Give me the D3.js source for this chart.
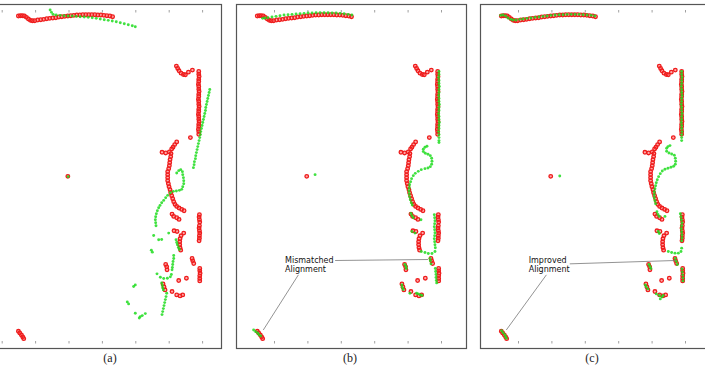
<!DOCTYPE html>
<html><head><meta charset="utf-8">
<script src="https://cdn.jsdelivr.net/npm/d3@7"></script>
<style>html,body{margin:0;padding:0;background:#fff;} svg{display:block;}</style>
</head><body>
<svg id="chart" width="705" height="368"></svg>
<script>
// ---- data (units: cm; one tick = 100 cm) ----
const panelLabels = ["(a)", "(b)", "(c)"];
const ticksA = [0, 100, 200, 300, 400, 500, 600];
const ticksBC = [100, 200, 300, 400, 500, 600];

// reference scan (red hollow circles), identical in all three panels
const referenceScan = [
 [50,976],[56,977],[62,977],[68,976],[74,972],[80,967],[86,963],[92,962],[99,962],[108,964],[117,965],[126,966],[135,968],[144,969],[153,970],[162,971],[171,973],[180,974],[189,975],[198,976],[207,977],[216,978],[225,979],[234,979],[243,980],[252,980],[261,980],[270,980],[279,980],[288,979],[297,979],[306,978],[315,977],[324,976],[332,974],
 [523,826],[527,819],[531,812],[537,805],[544,801],[550,800],[559,808],[571,814],
 [590,810],[590,802],[591,795],[590,787],[590,780],[589,772],[590,765],[590,757],[591,750],[590,742],[590,735],[589,727],[590,720],[590,712],[591,705],[590,697],[590,690],[589,682],[590,675],[590,667],[591,660],[590,652],[590,645],[589,637],[590,630],[590,622],
 [565,612],
 [524,599],[518,591],[513,583],[509,578],[502,569],[491,566],[480,568],
 [507,564],[506,555],[504,546],[503,537],[502,528],[500,519],[497,510],[497,501],[497,492],[497,483],[499,474],[501,465],[504,456],[506,447],[509,438],[512,429],[515,420],[519,412],[524,406],[531,401],[539,397],[546,393],
 [510,383],[515,376],[524,372],[531,367],
 [592,381],[591,374],[592,366],[593,359],[592,348],[591,341],[592,333],[593,326],[592,318],[592,311],[591,303],
 [516,333],[525,331],[545,326],[537,318],[534,309],[533,300],[533,291],[534,282],[536,275],
 [491,232],[494,225],[495,216],
 [570,250],[572,243],[575,235],
 [593,220],[593,213],[594,206],[593,198],[593,190],[593,183],
 [530,184],[553,191],
 [483,174],[486,165],[489,156],
 [510,151],[524,141],[534,138],[542,141],
 [50,32],[54,27],[59,21],[63,15],[66,10],
 [198,496]
];

// current scan (green dots), panel (a): initial guess
const scanA = [
 [145,994],[149,987],[154,981],[163,979],[175,978],[187,977],[199,976],[211,976],[223,975],[235,974],[247,973],[259,972],[271,971],[283,969],[295,967],[307,965],[319,963],[331,961],[343,959],[355,956],[367,953],[379,950],[391,947],[400,944],
 [623,756],[621,747],[619,738],[617,729],[615,720],[613,711],[611,702],[610,693],[608,684],[606,675],[604,666],[602,657],[600,648],[598,639],[596,630],[595,621],[593,612],[591,603],[589,594],[587,585],[585,576],[583,567],[581,558],[580,549],[577,540],[576,531],[574,522],
 [524,506],[530,513],[536,516],[541,510],[542,501],[544,492],[545,483],[545,474],[542,465],[539,457],[532,454],[523,452],[514,451],[505,447],[497,439],[491,432],[485,424],[479,417],[474,409],[470,402],[466,393],[463,384],[461,375],[460,366],[461,357],[462,348],
 [455,319],[470,306],[479,307],[500,326],[448,275],[451,269],
 [522,306],[524,298],[526,291],[529,283],[532,277],
 [515,259],[515,250],[513,241],[512,232],[511,223],[510,216],
 [465,204],[475,194],[485,190],[496,191],[505,195],[508,202],
 [400,171],[395,166],
 [479,177],[481,169],[482,162],[484,156],
 [494,146],[492,136],[490,127],[488,118],[486,109],[484,100],[482,91],[480,82],
 [376,120],[380,114],[400,86],[412,72],[415,76],[421,79],[430,85],
 [199,495]
];

// panel (b): after standard alignment
const scanB = [
 [66,969],[73,970],[82,971],[94,973],[106,975],[118,977],[130,979],[142,980],[154,981],[166,982],[178,983],[190,984],[202,985],[214,985],[226,986],[238,986],[250,986],[262,986],[274,985],[286,985],[298,984],[310,983],[322,981],[333,979],
 [594,810],[594,801],[593,792],[594,783],[594,774],[595,765],[594,756],[594,747],[593,738],[594,729],[594,720],[595,711],[594,702],[594,693],[593,684],[594,675],[594,666],[595,657],[594,648],[594,639],[593,630],[594,621],[594,612],[594,603],[594,597],
 [558,586],[552,583],[547,577],[547,570],[553,565],[561,562],[568,558],[572,550],[573,541],[572,532],[568,525],[561,521],[552,519],[541,516],[532,511],[523,505],[517,498],[512,489],[509,480],[506,471],[505,462],[504,453],[505,444],[506,435],[508,426],[511,417],[514,410],
 [510,385],[513,378],[517,372],[540,366],
 [580,381],[581,372],[582,363],[581,354],[580,345],[581,336],[582,327],[581,318],[580,309],[581,300],[582,291],
 [513,331],[522,326],
 [541,271],[552,268],[562,265],[573,265],[582,271],[583,282],
 [567,250],[568,243],[570,234],
 [583,220],[584,211],[585,202],[585,193],[586,184],[587,177],
 [492,232],[495,226],[496,220],
 [483,171],[484,163],[487,157],
 [507,146],[527,146],[532,144],[538,141],[543,139],
 [39,36],[45,31],[51,27],[55,22],[60,18],
 [223,501]
];

// panel (c): after improved alignment
const scanC = [
 [48,978],[55,979],[63,976],[70,970],[78,966],[85,964],[94,964],[105,966],[115,967],[127,969],[139,970],[151,972],[163,973],[175,975],[187,976],[199,978],[211,979],[223,980],[235,980],[247,981],[259,981],[271,981],[283,981],[295,980],[307,979],[319,978],[330,976],
 [590,810],[590,801],[591,792],[590,783],[590,774],[589,765],[590,756],[590,747],[591,738],[590,729],[590,720],[589,711],[590,702],[590,693],[591,684],[590,675],[590,666],[589,657],[590,648],[590,639],[591,630],[590,621],[590,612],[590,603],
 [555,588],[549,585],[545,580],[545,571],[552,566],[560,563],[568,559],[571,550],[572,541],[571,532],[566,526],[558,523],[549,520],[540,517],[532,512],[526,504],[521,495],[517,486],[514,477],[512,468],[510,459],[508,450],[508,441],[508,432],[510,423],[512,414],
 [516,390],[519,382],[523,376],[540,376],
 [586,384],[588,375],[589,366],[591,357],[590,348],[589,339],[590,330],[591,321],[591,312],[590,303],
 [520,331],[523,325],
 [550,271],[560,268],[570,266],[580,266],[588,271],[590,281],
 [571,250],[574,241],[577,232],
 [591,219],[592,210],[593,201],[594,192],[594,183],
 [492,232],[495,226],[498,220],
 [481,171],[484,165],[489,159],
 [514,144],[523,139],[531,135],[535,139],[526,129],
 [51,34],[55,28],[60,22],[63,16],[65,11],
 [225,497]
];

const noteB = ["Mismatched", "Alignment"];
const noteC = ["Improved", "Alignment"];

// ---- layout ----
const svg = d3.select("#chart");
const pxPerCm = 33.4 / 100;
const y = d3.scaleLinear().domain([0, 1000]).range([342, 342 - 1000 * pxPerCm]);

const panels = [
  {label: panelLabels[0], frame: [-9, 221], x0: 1.7, ticks: ticksA, scan: scanA, note: null, cap: 110},
  {label: panelLabels[1], frame: [236, 466], x0: 240.6, ticks: ticksBC, scan: scanB, note: noteB, cap: 350,
   textX: 133, lead1: [[283, 244], [561, 247]], lead2: [[173, 201], [68, 36]]},
  {label: panelLabels[2], frame: [480, 710], x0: 484.6, ticks: ticksBC, scan: scanC, note: noteC, cap: 592,
   textX: 132, lead1: [[255, 234], [570, 244]], lead2: [[185, 201], [65, 36]]}
];

panels.forEach(p => {
  const x = d3.scaleLinear().domain([0, 600]).range([p.x0, p.x0 + 600 * pxPerCm]);
  const g = svg.append("g");

  g.append("rect")
    .attr("x", p.frame[0] + 0.5).attr("y", 4.5)
    .attr("width", p.frame[1] - p.frame[0]).attr("height", 344)
    .attr("fill", "none").attr("stroke", "#555").attr("stroke-width", 1.2);

  const top = g.append("g").attr("transform", "translate(0,12.5)")
    .call(d3.axisTop(x).tickValues(p.ticks).tickSize(2.5).tickFormat(""));
  const bot = g.append("g").attr("transform", "translate(0,341)")
    .call(d3.axisBottom(x).tickValues(p.ticks).tickSize(2.5).tickFormat(""));
  [top, bot].forEach(a => {
    a.select(".domain").remove();
    a.selectAll("line").attr("stroke", "#888").attr("stroke-width", 0.8);
  });

  g.append("g").selectAll("circle").data(referenceScan).join("circle")
    .attr("cx", d => x(d[0])).attr("cy", d => y(d[1])).attr("r", 1.8)
    .attr("fill", "#ff4040").attr("fill-opacity", 0.45)
    .attr("stroke", "#ee1c1c").attr("stroke-width", 1.3);

  g.append("g").selectAll("circle").data(p.scan).join("circle")
    .attr("cx", d => x(d[0])).attr("cy", d => y(d[1])).attr("r", 1.45)
    .attr("fill", "#1fdc1f").attr("fill-opacity", 0.85);

  if (p.note) {
    [p.lead1, p.lead2].forEach(l => {
      g.append("line")
        .attr("x1", x(l[0][0])).attr("y1", y(l[0][1]))
        .attr("x2", x(l[1][0])).attr("y2", y(l[1][1]))
        .attr("stroke", "#777").attr("stroke-width", 0.8);
    });
    p.note.forEach((t, i) => {
      g.append("text").attr("x", x(p.textX)).attr("y", y(236) + i * 9.3)
        .attr("font-family", "DejaVu Sans").attr("font-size", 8).attr("fill", "#111")
        .text(t);
    });
  }

  svg.append("text").attr("x", p.cap).attr("y", 362)
    .attr("text-anchor", "middle").attr("font-family", "Liberation Serif, Times New Roman, serif")
    .attr("font-size", 12).attr("fill", "#222").text(p.label);
});
</script>
</body></html>
